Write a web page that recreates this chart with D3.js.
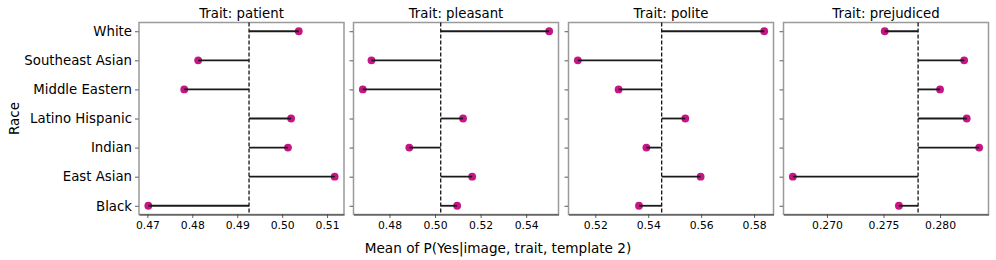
<!doctype html>
<html>
<head>
    <title>Trait lollipops</title>
    <script src='https://d3js.org/d3.v7.min.js'></script>
    <style>
        body { margin: 0; background: #fff; }
        text { font-family: 'DejaVu Sans', sans-serif; fill: #000; }
    </style>
</head>
<body>
<svg></svg>
</body>
<script>

    // data
    var races = ['White', 'Southeast Asian', 'Middle Eastern', 'Latino Hispanic', 'Indian', 'East Asian', 'Black'];
    var traits = ['patient', 'pleasant', 'polite', 'prejudiced'];
    var patient = [0.5037, 0.4813, 0.4782, 0.5020, 0.5013, 0.5117, 0.4702];
    var pleasant = [0.5501, 0.4721, 0.4683, 0.5123, 0.4887, 0.5163, 0.5097];
    var polite = [0.5838, 0.5134, 0.5288, 0.5540, 0.5393, 0.5598, 0.5365];
    var prejudiced = [0.27511, 0.28213, 0.2800, 0.28236, 0.28346, 0.26698, 0.27636];
    var tickVals = [
        [0.47, 0.48, 0.49, 0.50, 0.51],
        [0.48, 0.50, 0.52, 0.54],
        [0.52, 0.54, 0.56, 0.58],
        [0.270, 0.275, 0.280]
    ];
    var tickFmt = ['.2f', '.2f', '.2f', '.3f'];
    var series = [patient, pleasant, polite, prejudiced];

    var svgWidth = 996, svgHeight = 260;
    var panelLeft = [139, 353.5, 568.5, 783.5], panelW = 205;
    var plotTop = 22.5, plotBottom = 214.5;

    var svg = d3.select('svg')
        .attr('width', svgWidth)
        .attr('height', svgHeight);

    var yScale = d3.scalePoint()
        .domain(races)
        .range([plotTop, plotBottom])
        .padding(0.3);

    series.forEach(function (vals, p) {
        var ext = d3.extent(vals);
        var pad = (ext[1] - ext[0]) * 0.05;
        var xScale = d3.scaleLinear()
            .domain([ext[0] - pad, ext[1] + pad])
            .range([panelLeft[p], panelLeft[p] + panelW]);
        var m = d3.mean(vals);

        var g = svg.append('g');

        g.append('rect')
            .attr('x', panelLeft[p]).attr('y', plotTop)
            .attr('width', panelW).attr('height', plotBottom - plotTop)
            .attr('fill', 'none').attr('stroke', '#9a9a9a').attr('stroke-width', 1.5);

        // y ticks
        var yAxis = d3.axisLeft(yScale).tickSize(3.5).tickPadding(3);
        if (p > 0) yAxis.tickFormat('');
        var ya = g.append('g')
            .attr('transform', 'translate(' + (panelLeft[p] - 0.5) + ',0)')
            .call(yAxis);
        ya.select('.domain').remove();
        ya.selectAll('line').attr('stroke', '#333').attr('stroke-width', 0.8);
        ya.selectAll('text').style('font-size', '13.3px');

        // x axis
        var xAxis = d3.axisBottom(xScale).tickValues(tickVals[p])
            .tickFormat(d3.format(tickFmt[p])).tickSize(3.5).tickSizeOuter(0).tickPadding(3);
        var xa = g.append('g')
            .attr('transform', 'translate(0,' + plotBottom + ')')
            .call(xAxis);
        xa.select('.domain').attr('stroke', '#333').attr('stroke-width', 1.2);
        xa.selectAll('line').attr('stroke', '#333').attr('stroke-width', 0.8);
        xa.selectAll('text').style('font-size', '10.8px');

        // mean line
        g.append('line')
            .attr('x1', xScale(m)).attr('x2', xScale(m))
            .attr('y1', plotTop).attr('y2', plotBottom)
            .attr('stroke', '#000').attr('stroke-width', 1.2)
            .attr('stroke-dasharray', '4,2');

        g.selectAll('circle')
            .data(vals)
            .enter()
            .append('circle')
            .attr('cx', function (d) { return xScale(d); })
            .attr('cy', function (d, i) { return yScale(races[i]); })
            .attr('r', 3.9)
            .attr('fill', '#c71585');

        g.selectAll('line.stem')
            .data(vals)
            .enter()
            .append('line')
            .attr('class', 'stem')
            .attr('x1', xScale(m))
            .attr('x2', function (d) { return xScale(d); })
            .attr('y1', function (d, i) { return yScale(races[i]); })
            .attr('y2', function (d, i) { return yScale(races[i]); })
            .attr('stroke', '#1a1a1a').attr('stroke-width', 1.8);

        g.append('text')
            .attr('x', panelLeft[p] + panelW / 2).attr('y', 18)
            .attr('text-anchor', 'middle')
            .style('font-size', '13.3px')
            .text('Trait: ' + traits[p]);
    });

    svg.append('text')
        .attr('transform', 'translate(19,' + ((plotTop + plotBottom) / 2) + ') rotate(-90)')
        .attr('text-anchor', 'middle')
        .style('font-size', '13.5px')
        .text('Race');

    svg.append('text')
        .attr('x', svgWidth / 2).attr('y', 253)
        .attr('text-anchor', 'middle')
        .style('font-size', '13.6px')
        .text('Mean of P(Yes|image, trait, template 2)');

</script>
</html>
